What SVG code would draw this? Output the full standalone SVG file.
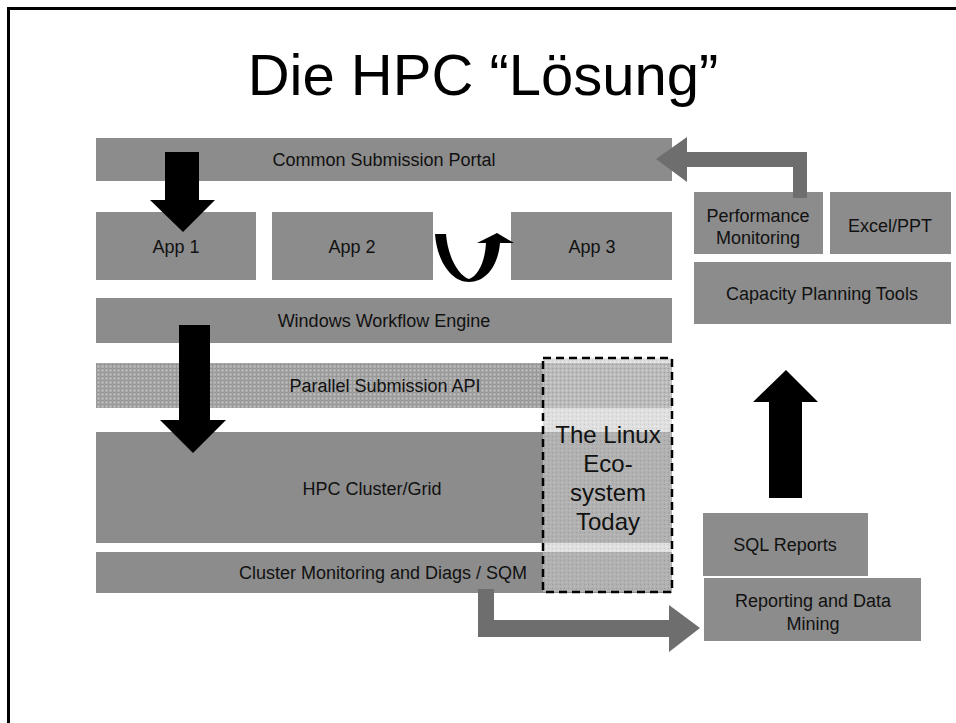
<svg xmlns="http://www.w3.org/2000/svg" width="956" height="723" viewBox="0 0 956 723">
<defs>
<pattern id="dots" width="4" height="4" patternUnits="userSpaceOnUse">
<rect width="4" height="4" fill="#acacac"/>
<rect width="4" height="1" fill="#999"/>
<rect width="1" height="4" fill="#999"/>
<rect x="2" y="2" width="1" height="1" fill="#c4c4c4"/>
</pattern>
<pattern id="lin" width="4" height="4" patternUnits="userSpaceOnUse">
<rect width="4" height="4" fill="#cacaca"/>
<rect width="1" height="1" fill="#a8a8a8"/>
<rect x="2" y="2" width="1" height="1" fill="#e8e8e8"/>
</pattern>
</defs>
<style>
.box{fill:#8c8c8c}
.t{font-family:"Liberation Sans",Arial,sans-serif;font-size:18px;fill:#111;text-anchor:middle}
.lt{font-size:24px}
.blk{fill:#000}
.gar{fill:#6e6e6e}
</style>
<rect width="956" height="723" fill="#fff"/>
<path d="M8.5,723 V8.5 H956" fill="none" stroke="#000" stroke-width="3"/>
<text x="483" y="95" font-family="'Liberation Sans',Arial,sans-serif" font-size="58" text-anchor="middle" fill="#000">Die HPC “Lösung”</text>

<g id="portal"><rect class="box" x="96" y="138" width="576" height="43"/><text class="t" x="384" y="166">Common Submission Portal</text></g>
<g id="app1"><rect class="box" x="96" y="212" width="160" height="68"/><text class="t" x="176" y="253">App 1</text></g>
<g id="app2"><rect class="box" x="272" y="212" width="161" height="68"/><text class="t" x="352" y="253">App 2</text></g>
<g id="app3"><rect class="box" x="511" y="212" width="161" height="68"/><text class="t" x="592" y="253">App 3</text></g>
<g id="wwe"><rect class="box" x="96" y="298" width="576" height="45"/><text class="t" x="384" y="327">Windows Workflow Engine</text></g>
<g id="api"><rect x="96" y="363" width="576" height="45" fill="url(#dots)"/><text class="t" x="385" y="392">Parallel Submission API</text></g>
<g id="hpc"><rect class="box" x="96" y="432" width="576" height="111"/><text class="t" x="372" y="495">HPC Cluster/Grid</text></g>
<g id="clmon"><rect class="box" x="96" y="552" width="576" height="41"/><text class="t" x="383" y="579">Cluster Monitoring and Diags / SQM</text></g>

<g id="linux">
<rect x="543" y="358" width="129" height="234" fill="url(#lin)" fill-opacity="0.6" stroke="#000" stroke-width="2.5" stroke-dasharray="8,5"/>
<text class="t lt" x="608" y="443">The Linux</text>
<text class="t lt" x="608" y="472">Eco-</text>
<text class="t lt" x="608" y="501">system</text>
<text class="t lt" x="608" y="530">Today</text>
</g>

<g id="perf"><rect class="box" x="694" y="192" width="129" height="62"/><text class="t" x="758" y="222">Performance</text><text class="t" x="758" y="244">Monitoring</text></g>
<g id="excel"><rect class="box" x="830" y="192" width="121" height="62"/><text class="t" x="890" y="232">Excel/PPT</text></g>
<g id="cap"><rect class="box" x="694" y="262" width="257" height="62"/><text class="t" x="822" y="300">Capacity Planning Tools</text></g>
<g id="sql"><rect class="box" x="703" y="513" width="165" height="63"/><text class="t" x="785" y="551">SQL Reports</text></g>
<g id="rep"><rect class="box" x="704" y="578" width="217" height="63"/><text class="t" x="813" y="607">Reporting and Data</text><text class="t" x="813" y="630">Mining</text></g>

<g id="connectors">
<path class="blk" d="M165,152 H199 V200 H215 L183,232 L150,200 H165 Z"/>
<path class="blk" d="M435,234 L446,234 C448,258 459,276 469,279 C478,276 485,262 486,243 L477,243 L497,233 L514,243 L500,243 C498,266 486,282 469,282 C452,282 437,262 435,234 Z"/>
<path class="blk" d="M179,325 H210 V420 H226 L193,453 L160,420 H179 Z"/>
<path class="blk" d="M769,498 V402 H753 L786,370 L818,402 H802 V498 Z"/>
<path class="gar" d="M793,198 V167 H687 V182 L656,159 L687,137 V152 H807 V198 Z"/>
<path class="gar" d="M478,589 H494 V620 H669 V605 L700,628 L669,652 V637 H478 Z"/>
</g>
</svg>
